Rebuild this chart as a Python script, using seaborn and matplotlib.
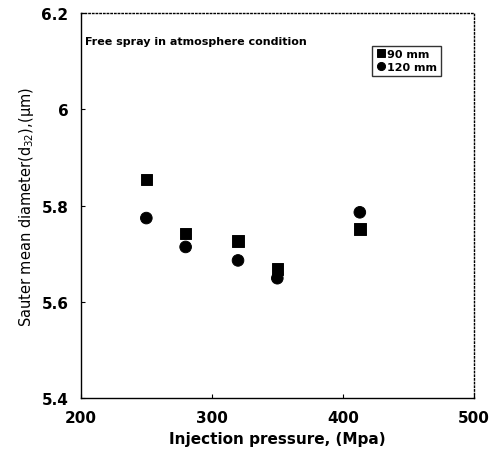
import pandas as pd
import seaborn as sns
import matplotlib.pyplot as plt

pressure = [250, 280, 320, 350, 413]
d32_90mm = [5.854, 5.742, 5.726, 5.668, 5.751]
d32_120mm = [5.774, 5.714, 5.686, 5.649, 5.786]
series = ['90 mm', '120 mm']

df = pd.concat([
    pd.DataFrame({'pressure': pressure, 'd32': d32_90mm, 'dist': series[0]}),
    pd.DataFrame({'pressure': pressure, 'd32': d32_120mm, 'dist': series[1]}),
])

sns.set_style('ticks')
plt.rcParams['font.family'] = ['DejaVu Sans']
plt.rcParams['text.color'] = 'black'
plt.rcParams['axes.labelcolor'] = 'black'
plt.rcParams['xtick.color'] = 'black'
plt.rcParams['ytick.color'] = 'black'

fig = plt.figure(figsize=(4.93, 4.56), dpi=100)
ax = fig.add_axes([0.164, 0.125, 0.797, 0.844])

sns.scatterplot(data=df, x='pressure', y='d32', hue='dist', style='dist',
                markers={'90 mm': 's', '120 mm': 'o'},
                palette={'90 mm': 'black', '120 mm': 'black'},
                s=70, edgecolor='black', ax=ax)

ax.set_xlim(200, 500)
ax.set_ylim(5.4, 6.2)
ax.set_xticks([200, 300, 400, 500])
ax.set_yticks([5.4, 5.6, 5.8, 6.0, 6.2])
ax.set_yticklabels(['5.4', '5.6', '5.8', '6', '6.2'])
ax.tick_params(direction='in', length=3, labelsize=11, pad=9)
for lab in ax.get_xticklabels() + ax.get_yticklabels():
    lab.set_fontweight('bold')

ax.spines['top'].set_linestyle(':')
ax.spines['right'].set_linestyle(':')
for sp in ax.spines.values():
    sp.set_linewidth(1.0)
    sp.set_color('black')

ax.set_xlabel('Injection pressure, (Mpa)', fontsize=11, fontweight='bold')
ax.set_ylabel('Sauter mean diameter(d$_{32}$),(μm)', fontsize=10.5)

ax.text(0.01, 0.92, 'Free spray in atmosphere condition', transform=ax.transAxes,
        fontsize=8, fontweight='bold')

leg = ax.legend(loc='upper right', bbox_to_anchor=(0.93, 0.93), frameon=True,
                fancybox=False, edgecolor='black', handletextpad=0.1,
                borderpad=0.3, labelspacing=0.3, handlelength=1.0,
                markerscale=0.7,
                prop={'weight': 'bold', 'size': 8})
leg.get_frame().set_linewidth(1.0)

fig.savefig('out.png', dpi=100)
